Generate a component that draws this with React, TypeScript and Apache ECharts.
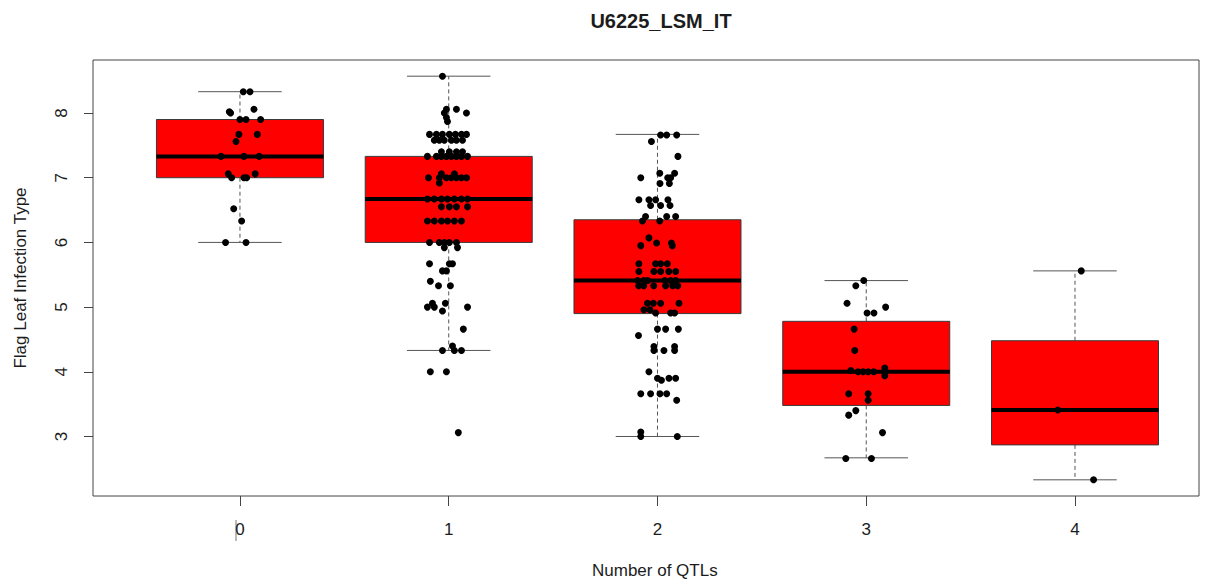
import React, { useEffect, useRef } from "react";
import * as echarts from "echarts";

// Groups: number of QTLs carried
const categories = ["0", "1", "2", "3", "4"];

// Box statistics per group (Tukey hinges)
const whiskerLow = [6.0, 4.33, 3.0, 2.67, 2.33];
const quartile1 = [7.0, 6.0, 4.9, 3.48, 2.87];
const medians = [7.33, 6.67, 5.41, 4.0, 3.41];
const quartile3 = [7.9, 7.33, 6.35, 4.78, 4.48];
const whiskerHigh = [8.33, 8.57, 7.67, 5.41, 5.56];

// Individual lines: [horizontal jitter, infection type]
const group0Points = [
  [0.016, 8.33], [0.048, 8.33], [-0.051, 8.02], [-0.045, 8.0], [0.067, 8.06],
  [0.0, 7.9], [0.029, 7.9], [0.099, 7.9], [-0.005, 7.67], [0.083, 7.67],
  [-0.019, 7.56], [-0.091, 7.33], [0.019, 7.33], [0.092, 7.33], [-0.056, 7.06],
  [-0.04, 7.0], [0.019, 7.0], [0.032, 7.0], [0.073, 7.06], [-0.03, 6.52],
  [0.008, 6.33], [-0.069, 6.0], [0.029, 6.0],
];

const group1Points = [
  [-0.03, 8.57], [-0.011, 8.06], [0.037, 8.06], [0.085, 8.0], [-0.021, 8.0],
  [-0.011, 7.93], [-0.006, 7.87],
  [-0.092, 7.67], [-0.059, 7.67], [-0.03, 7.67], [0.003, 7.67], [0.032, 7.67], [0.061, 7.67], [0.085, 7.67],
  [-0.069, 7.58], [-0.045, 7.58], [-0.021, 7.58], [0.013, 7.58], [0.037, 7.58], [0.066, 7.58],
  [-0.035, 7.4], [0.003, 7.4], [0.037, 7.4], [0.066, 7.4],
  [-0.102, 7.33], [-0.059, 7.33], [-0.035, 7.33], [-0.011, 7.33], [0.013, 7.33], [0.037, 7.33], [0.061, 7.33], [0.09, 7.33],
  [-0.035, 7.06], [0.027, 7.06],
  [-0.097, 7.0], [-0.045, 7.0], [-0.011, 7.0], [0.013, 7.0], [0.037, 7.0], [0.061, 7.0], [0.085, 7.0],
  [-0.045, 6.92],
  [-0.102, 6.67], [-0.069, 6.67], [-0.035, 6.67], [-0.006, 6.67], [0.027, 6.67], [0.061, 6.67], [0.09, 6.67],
  [-0.035, 6.55], [0.003, 6.55], [0.037, 6.55], [0.09, 6.55],
  [-0.102, 6.33], [-0.069, 6.33], [-0.035, 6.33], [-0.006, 6.33], [0.027, 6.33], [0.061, 6.33],
  [-0.092, 6.0], [-0.045, 6.0], [-0.021, 6.0], [0.003, 6.0], [0.037, 6.0],
  [-0.021, 5.92], [0.042, 5.92],
  [-0.092, 5.67], [0.003, 5.67], [0.018, 5.67],
  [-0.03, 5.56], [-0.011, 5.56],
  [-0.088, 5.4], [-0.049, 5.33], [0.008, 5.33],
  [-0.078, 5.06], [-0.016, 5.06],
  [-0.102, 5.0], [-0.069, 5.0], [0.09, 5.0],
  [-0.03, 4.94], [0.07, 4.66], [0.018, 4.4],
  [-0.03, 4.33], [0.027, 4.33], [0.061, 4.33],
  [-0.088, 4.0], [-0.011, 4.0], [0.046, 3.06],
];

const group2Points = [
  [0.015, 7.66], [0.044, 7.66], [0.092, 7.66], [-0.029, 7.56], [0.098, 7.33],
  [0.011, 7.07], [0.082, 7.07], [-0.08, 7.0], [0.049, 7.0], [0.063, 7.0],
  [0.012, 6.91], [0.057, 6.91],
  [-0.089, 6.66], [-0.041, 6.66], [-0.009, 6.66], [0.05, 6.66],
  [-0.033, 6.57], [0.015, 6.57], [0.06, 6.57],
  [-0.057, 6.4], [0.044, 6.4], [0.087, 6.4],
  [-0.072, 6.33], [0.011, 6.33], [-0.041, 6.07],
  [-0.004, 5.99], [0.067, 5.99], [-0.08, 5.95], [0.071, 5.95],
  [-0.089, 5.67], [-0.009, 5.67], [0.015, 5.67], [0.047, 5.67],
  [-0.089, 5.55], [-0.017, 5.55], [0.015, 5.55], [0.054, 5.55], [0.087, 5.55],
  [-0.095, 5.41], [-0.066, 5.41], [-0.047, 5.41], [0.035, 5.41], [0.063, 5.41], [0.087, 5.41],
  [-0.09, 5.33], [-0.066, 5.33], [-0.018, 5.33], [0.039, 5.33], [0.073, 5.33], [0.097, 5.33],
  [-0.048, 5.06], [-0.02, 5.06], [0.015, 5.06], [0.103, 5.06],
  [-0.065, 4.96], [-0.036, 4.96],
  [-0.009, 4.91], [0.063, 4.91], [0.082, 4.91],
  [0.0, 4.66], [0.039, 4.66], [0.1, 4.66], [-0.091, 4.56],
  [-0.017, 4.39], [0.082, 4.39], [-0.017, 4.33], [0.031, 4.33], [0.082, 4.33],
  [-0.041, 4.0], [0.0, 3.9], [0.055, 3.9], [0.087, 3.9], [0.019, 3.87],
  [-0.08, 3.66], [-0.033, 3.66], [0.012, 3.66], [0.044, 3.66], [0.092, 3.56],
  [-0.08, 3.07], [-0.08, 3.0], [0.095, 3.0],
];

const group3Points = [
  [-0.012, 5.41], [-0.05, 5.33], [-0.092, 5.06], [0.093, 5.0],
  [0.004, 4.91], [0.037, 4.91], [-0.058, 4.66], [-0.055, 4.33],
  [-0.074, 4.02], [-0.039, 4.0], [-0.015, 4.0], [0.009, 4.0], [0.036, 4.0],
  [0.089, 4.06], [0.089, 4.0], [0.089, 3.94],
  [-0.084, 3.66], [0.009, 3.66], [0.009, 3.56], [-0.05, 3.4], [-0.084, 3.33],
  [0.078, 3.06], [-0.098, 2.66], [0.025, 2.66],
];

const group4Points = [
  [0.03, 5.56], [-0.082, 3.41], [0.089, 2.33],
];

const groupPoints = [group0Points, group1Points, group2Points, group3Points, group4Points];

const yTicks = [3, 4, 5, 6, 7, 8];
const xTicks = [0, 1, 2, 3, 4];

const TEXT = "#1c1c1c";
const FONT = "'Liberation Sans', Arial, sans-serif";

export default function App() {
  const ref = useRef<HTMLDivElement>(null);

  useEffect(() => {
    if (!ref.current) return;
    const chart = echarts.init(ref.current, null, { renderer: "svg" });

    const boxData = categories.map((_, i) => [
      i,
      whiskerLow[i],
      quartile1[i],
      medians[i],
      quartile3[i],
      whiskerHigh[i],
    ]);

    const scatterData: number[][] = [];
    groupPoints.forEach((pts, i) => {
      pts.forEach(([dx, v]) => scatterData.push([i + dx, v]));
    });

    const option = {
      animation: false,
      backgroundColor: "#ffffff",
      textStyle: { fontFamily: FONT },
      title: {
        text: "U6225_LSM_IT",
        left: 656,
        top: 6,
        textAlign: "center",
        textStyle: { fontFamily: FONT, fontSize: 20, fontWeight: "bold", color: TEXT },
      },
      grid: {
        left: 93,
        right: 15,
        top: 60,
        bottom: 87,
        outerBoundsMode: "none",
        containLabel: false,
        show: true,
        borderColor: "#444",
        borderWidth: 1,
        backgroundColor: "transparent",
      },
      xAxis: {
        type: "value",
        min: -0.704,
        max: 4.594,
        axisLine: { show: false, onZero: false },
        splitLine: { show: false },
        axisTick: { show: true, length: 10, customValues: xTicks, lineStyle: { color: "#444" } },
        axisLabel: {
          customValues: xTicks,
          formatter: (v: number) => categories[Math.round(v)] ?? "",
          fontSize: 17,
          color: TEXT,
          margin: 25,
          fontFamily: FONT,
        },
      },
      yAxis: {
        type: "value",
        min: 2.08,
        max: 8.82,
        name: "Flag Leaf Infection Type",
        nameLocation: "middle",
        nameGap: 64,
        nameTextStyle: { fontSize: 17, color: TEXT, fontFamily: FONT },
        axisLine: { show: false, onZero: false },
        splitLine: { show: false },
        axisTick: { show: true, length: 9, customValues: yTicks, lineStyle: { color: "#444" } },
        axisLabel: {
          customValues: yTicks,
          rotate: 90,
          fontSize: 17,
          color: TEXT,
          margin: 23,
          fontFamily: FONT,
        },
      },
      graphic: [
        {
          type: "text",
          left: 656 - 64,
          top: 562,
          style: {
            text: "Number of QTLs",
            fontSize: 17,
            fill: TEXT,
            fontFamily: FONT,
          },
        },
        {
          type: "line",
          shape: { x1: 236, y1: 520, x2: 236, y2: 541 },
          style: { stroke: "#777", lineWidth: 1 },
        },
      ],
      series: [
        {
          type: "custom",
          data: boxData,
          encode: { x: 0, y: [1, 2, 3, 4, 5] },
          z: 2,
          renderItem: (_params: any, api: any) => {
            const x = api.value(0);
            const lo = api.coord([x, api.value(1)]);
            const q1 = api.coord([x, api.value(2)]);
            const md = api.coord([x, api.value(3)]);
            const q3 = api.coord([x, api.value(4)]);
            const hi = api.coord([x, api.value(5)]);
            const halfBox = api.size([0.8, 0])[0] / 2;
            const halfCap = api.size([0.4, 0])[0] / 2;
            const cx = lo[0];
            const whisker = { stroke: "#555", lineWidth: 1, lineDash: [4, 3] };
            const cap = { stroke: "#555", lineWidth: 1 };
            return {
              type: "group",
              children: [
                { type: "line", shape: { x1: cx, y1: q3[1], x2: cx, y2: hi[1] }, style: whisker },
                { type: "line", shape: { x1: cx, y1: q1[1], x2: cx, y2: lo[1] }, style: whisker },
                { type: "line", shape: { x1: cx - halfCap, y1: hi[1], x2: cx + halfCap, y2: hi[1] }, style: cap },
                { type: "line", shape: { x1: cx - halfCap, y1: lo[1], x2: cx + halfCap, y2: lo[1] }, style: cap },
                {
                  type: "rect",
                  shape: { x: cx - halfBox, y: q3[1], width: halfBox * 2, height: q1[1] - q3[1] },
                  style: { fill: "#ff0000", stroke: "#3a3a3a", lineWidth: 1 },
                },
                {
                  type: "line",
                  shape: { x1: cx - halfBox, y1: md[1], x2: cx + halfBox, y2: md[1] },
                  style: { stroke: "#000", lineWidth: 4 },
                },
              ],
            };
          },
        },
        {
          type: "scatter",
          data: scatterData,
          symbol: "circle",
          symbolSize: 7,
          z: 3,
          itemStyle: { color: "#000", opacity: 1 },
          emphasis: { disabled: true },
        },
      ],
    };

    chart.setOption(option as any);
    return () => chart.dispose();
  }, []);

  return (
    <div
      ref={ref}
      style={{ position: "absolute", left: 0, top: 0, width: 1214, height: 583 }}
    />
  );
}
